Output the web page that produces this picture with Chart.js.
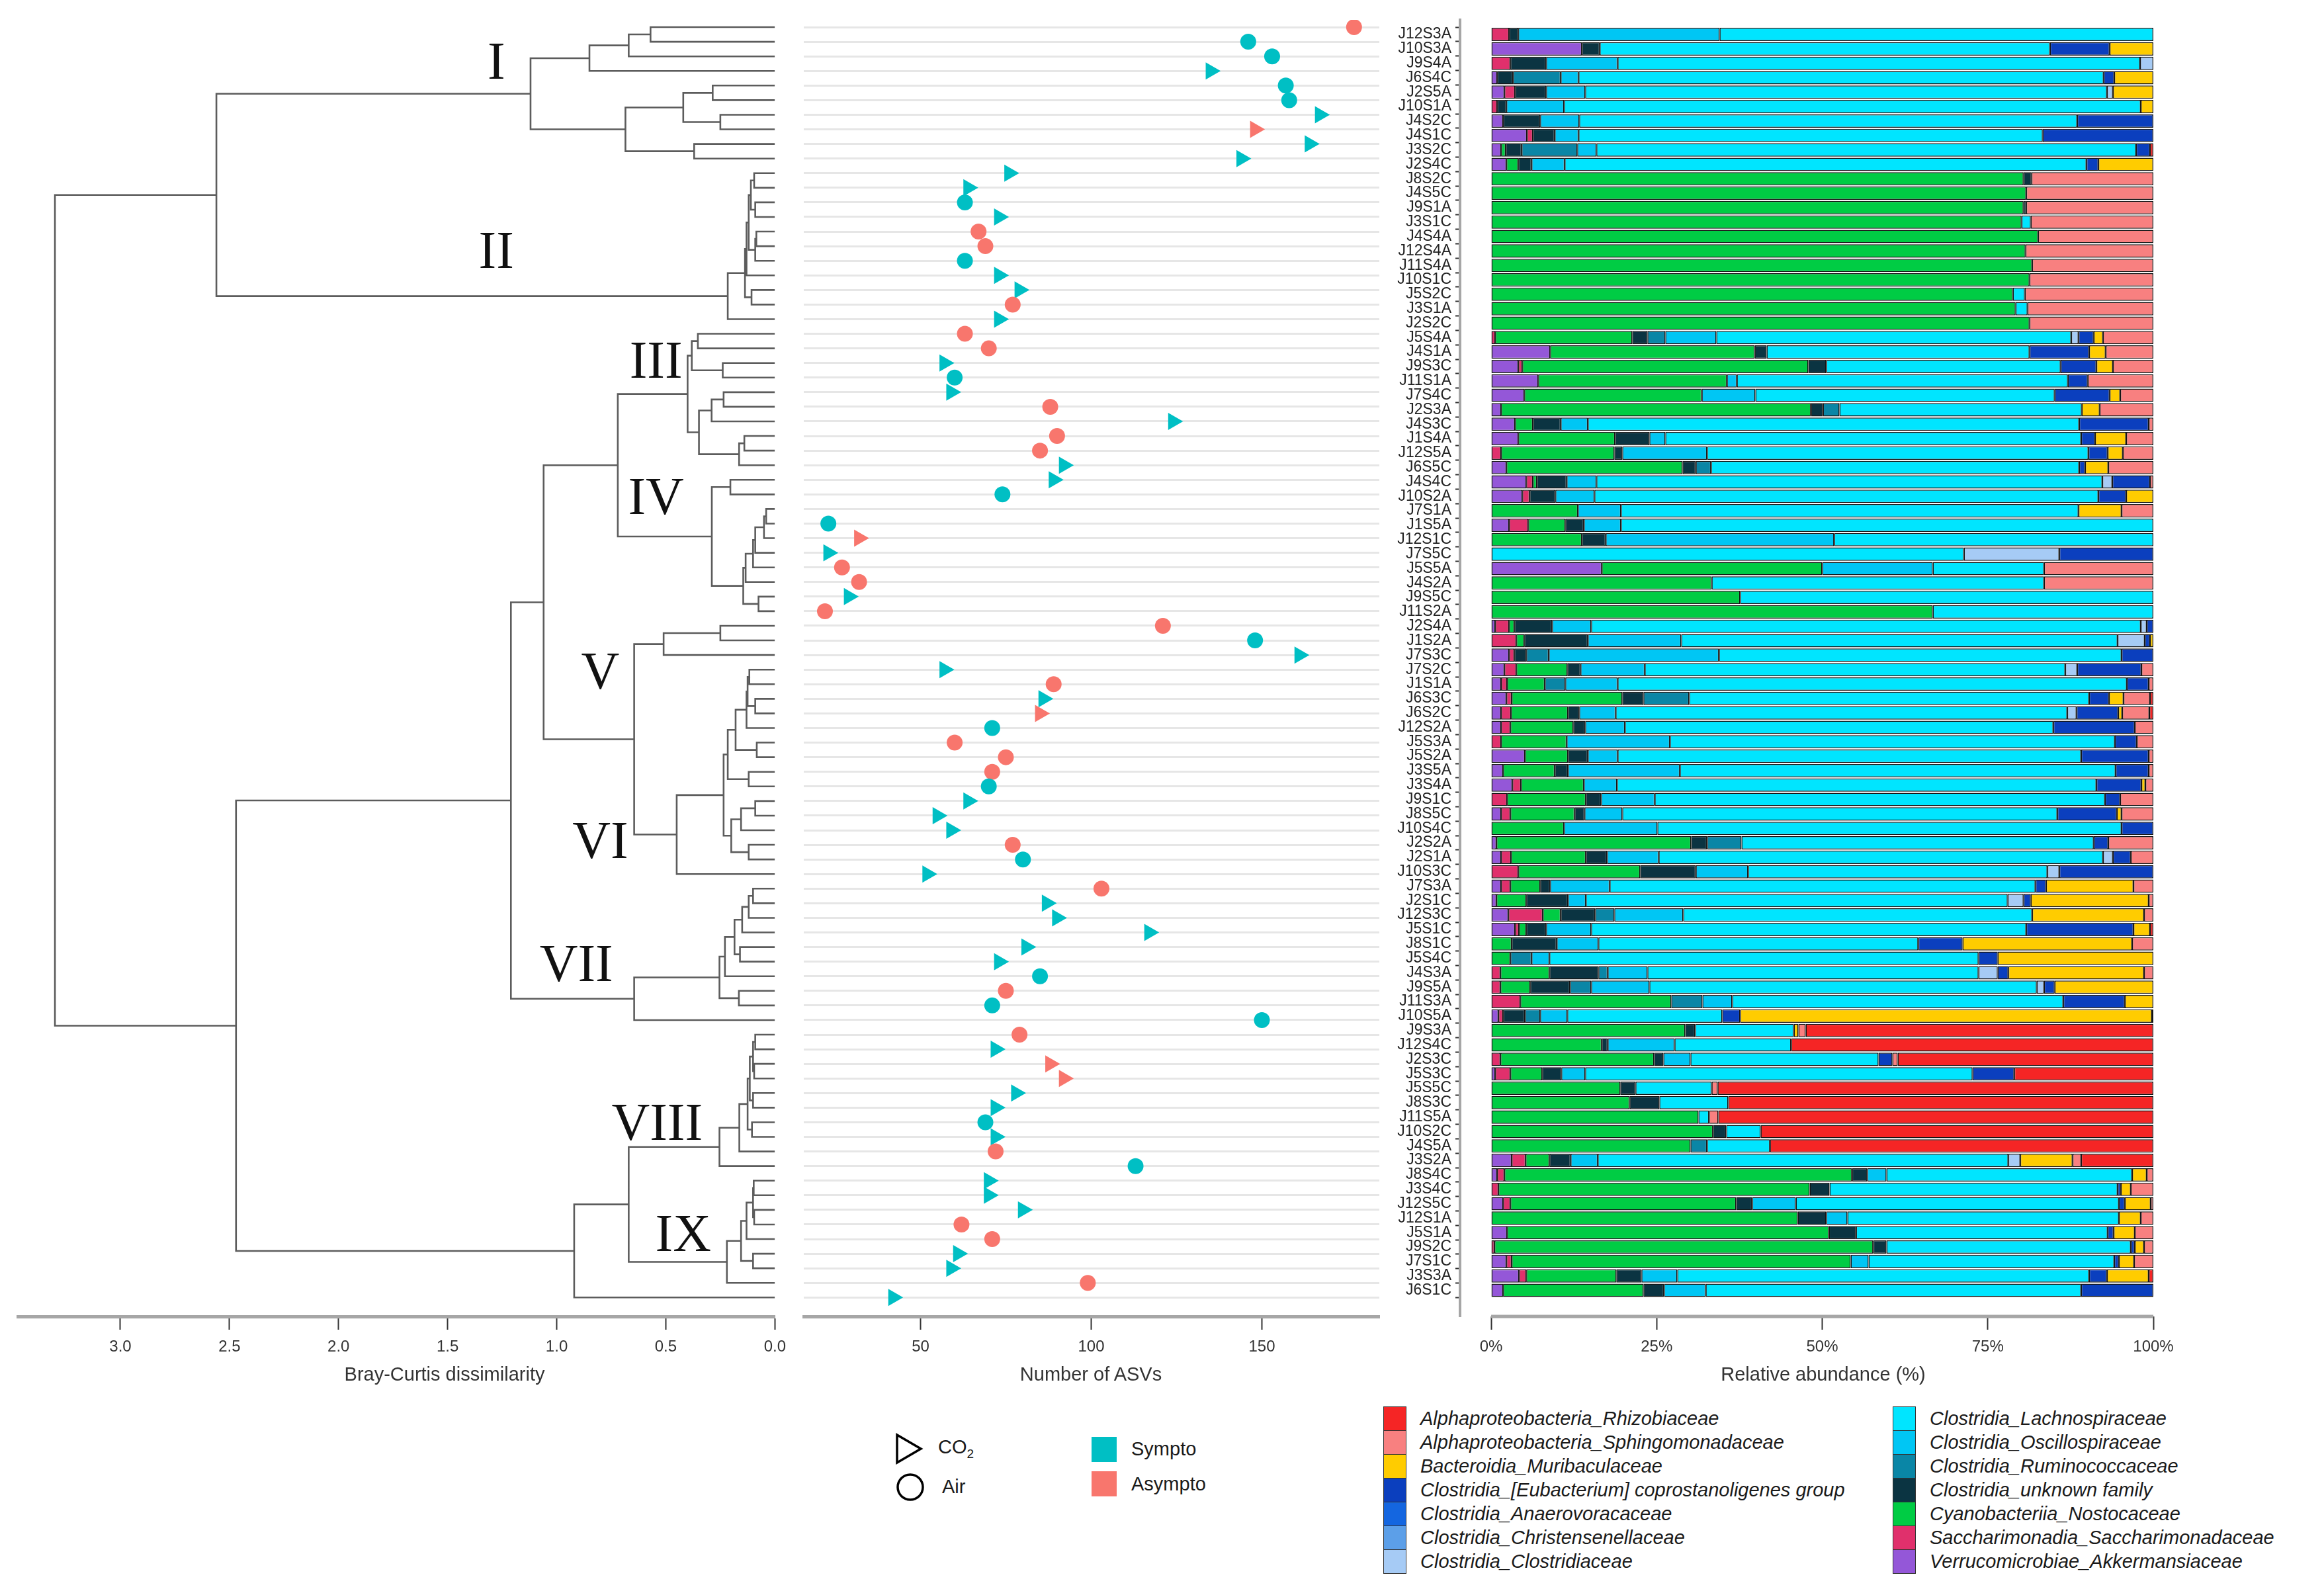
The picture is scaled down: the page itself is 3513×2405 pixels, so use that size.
<!DOCTYPE html>
<html><head><meta charset="utf-8">
<script src="https://cdn.jsdelivr.net/npm/chart.js@4.4.1/dist/chart.umd.min.js"></script>
<style>
html,body{margin:0;padding:0;background:#fff;}
#wrap{position:relative;width:3513px;height:2405px;overflow:hidden;background:#fff;font-family:"Liberation Sans",Arial,sans-serif;}
#wrap canvas{position:absolute;top:0;}
.lg{position:absolute;color:#1a1a1a;white-space:nowrap;line-height:1;transform:translateY(-50%);font-size:29px;}
.ttl{position:absolute;color:#333;white-space:nowrap;line-height:1;transform:translate(-50%,-50%);font-size:29px;top:2077px;}
.it{font-style:italic;}
.key{position:absolute;box-sizing:border-box;border:1.5px solid #333;}
</style></head><body><div id="wrap">
<canvas id="dendro" width="1200" height="2110" style="left:0px"></canvas>
<canvas id="asv" width="900" height="2110" style="left:1200px"></canvas>
<canvas id="bars" width="1413" height="2110" style="left:2100px"></canvas>
<div class="ttl" style="left:672px">Bray-Curtis dissimilarity</div>
<div class="ttl" style="left:1649px">Number of ASVs</div>
<div class="ttl" style="left:2756px">Relative abundance (%)</div>
<svg style="position:absolute;left:1352px;top:2166px" width="44" height="48"><polygon points="4,3 40,24 4,45" fill="none" stroke="#000" stroke-width="3.5"/></svg>
<div class="lg" style="left:1418px;top:2190px">CO<sub style="font-size:19px">2</sub></div>
<svg style="position:absolute;left:1354px;top:2226px" width="44" height="44"><circle cx="22" cy="22" r="19" fill="none" stroke="#000" stroke-width="3.5"/></svg>
<div class="lg" style="left:1424px;top:2247px">Air</div>
<div class="key" style="left:1650px;top:2172px;width:38px;height:38px;background:#00BFC4;border:none"></div>
<div class="lg" style="left:1710px;top:2190px">Sympto</div>
<div class="key" style="left:1650px;top:2224px;width:38px;height:38px;background:#F8766D;border:none"></div>
<div class="lg" style="left:1710px;top:2243px">Asympto</div>
<div id="famLegend"></div>
</div>
<script>
// ---------------- DATA ----------------
const sampleLabels = [
 'J12S3A','J10S3A','J9S4A','J6S4C','J2S5A','J10S1A','J4S2C','J4S1C','J3S2C','J2S4C',
 'J8S2C','J4S5C','J9S1A','J3S1C','J4S4A','J12S4A','J11S4A','J10S1C','J5S2C','J3S1A',
 'J2S2C','J5S4A','J4S1A','J9S3C','J11S1A','J7S4C','J2S3A','J4S3C','J1S4A','J12S5A',
 'J6S5C','J4S4C','J10S2A','J7S1A','J1S5A','J12S1C','J7S5C','J5S5A','J4S2A','J9S5C',
 'J11S2A','J2S4A','J1S2A','J7S3C','J7S2C','J1S1A','J6S3C','J6S2C','J12S2A','J5S3A',
 'J5S2A','J3S5A','J3S4A','J9S1C','J8S5C','J10S4C','J2S2A','J2S1A','J10S3C','J7S3A',
 'J2S1C','J12S3C','J5S1C','J8S1C','J5S4C','J4S3A','J9S5A','J11S3A','J10S5A','J9S3A',
 'J12S4C','J2S3C','J5S3C','J5S5C','J8S3C','J11S5A','J10S2C','J4S5A','J3S2A','J8S4C',
 'J3S4C','J12S5C','J12S1A','J5S1A','J9S2C','J7S1C','J3S3A','J6S1C'];

const asvCount = [
 177,146,153,135,157,158,167,148,164,144,
 76,64,63,73,67,69,63,73,79,77,
 73,63,70,57,60,59,88,124,90,85,
 92,89,74,null,23,32,23,27,32,29,
 22,121,148,161,57,89,86,85,71,60,
 75,71,70,64,55,59,77,80,52,103,
 87,90,117,81,73,85,75,71,150,79,
 72,88,92,78,72,69,72,72,113,70,
 70,80,62,71,61,59,99,42];

const symptomGroup = [
 'A','S','S','S','S','S','S','A','S','S',
 'S','S','S','S','A','A','S','S','S','A',
 'S','A','A','S','S','S','A','S','A','A',
 'S','S','S','A','S','A','S','A','A','S',
 'A','A','S','S','S','A','S','A','S','A',
 'A','A','S','S','S','S','A','S','S','A',
 'S','S','S','S','S','S','A','S','S','A',
 'S','A','A','S','S','S','S','A','S','S',
 'S','S','A','A','S','S','A','S'];

// dendrogram merges: [height, left, right]; numbers = leaf row index
const dendroTree = [3.30,
  [2.56,
    [1.12, [0.85, [0.67, [0.57, 0, 1], 2], 3], [0.685, [0.42, [0.285, 4, 5], [0.25, 6, 7]], [0.37, 8, 9]]],
    [0.216, [0.137, [0.13, [0.12, [0.11, [0.095, 10, 11], [0.09, 12, 13]], [0.09, [0.085, 14, 15], 16]], 17], [0.107, 18, 19]], 20]
  ],
  [2.47,
    [1.21,
      [1.06,
        [0.72,
          [0.40, [0.381, [0.353, 21, 22], [0.239, 23, 24]], [0.348, [0.29, [0.235, 25, 26], 27], [0.164, [0.14, 28, 29], 30]]],
          [0.289, [0.204, 31, 32], [0.145, [0.134, [0.10, [0.09, [0.05, [0.04, 33, 34], 35], 36], 37], 38], [0.075, 39, 40]]]
        ],
        [0.645, [0.51, [0.25, 41, 42], 43],
          [0.45, [0.235,
                   [0.216, [0.18, [0.13, [0.125, [0.117, 44, 45], [0.09, 46, 47]], 48], [0.083, 49, 50]], [0.12, 51, 52]],
                   [0.20, [0.155, [0.09, 53, 54], 55], [0.12, 56, 57]]], 58]
        ]
      ],
      [0.645, [0.254, [0.229, [0.185, [0.15, [0.12, [0.10, 59, 60], 61], 62], [0.16, 63, 64]], 65], [0.165, 66, 67]], 68]
    ],
    [0.92, [0.67,
      [0.254, [0.163, [0.125, [0.115, [0.10, [0.09, 69, 70], [0.095, 71, 72]], [0.10, 73, 74]], [0.105, 75, 76]], 77], 78],
      [0.22, [0.155, [0.13, [0.10, [0.097, 79, 80], [0.095, 81, 82]], 83], [0.10, 84, 85]], 86]], 87]
  ]
];

const dendroTicks = [3.0, 2.5, 2.0, 1.5, 1.0, 0.5, 0.0];
const asvTicks = [50, 100, 150];
const abundanceTicks = [0, 25, 50, 75, 100];

const clusterNames  = ['I','II','III','IV','V','VI','VII','VIII','IX'];
const clusterLabelX = [1.277, 1.277, 0.545, 0.545, 0.80, 0.80, 0.91, 0.54, 0.42];
const clusterLabelY = [2.33, 15.25, 22.8, 32.1, 44.07, 55.7, 64.1, 75.0, 82.6];

// relative abundance (%) per family, one value per sample row
const akkermansiaceae = [0,13.7,0,0.9,2,0,1.8,5.4,1.5,2.3, 0,0,0,0,0,0,0,0,0,0, 0,0,8.9,4.1,7.1,5,1.5,3.6,4.1,0, 2.3,5.3,4.7,0,2.7,0,0,16.7,0,0, 0,0.6,0,2.7,2,1.5,2.3,1.5,1.5,0, 5.1,1.8,3.2,0,1.5,0,0.8,1.5,0,1.5, 0.8,2.6,3.6,0,0,0,0,0,1.1,0, 0,0,0.6,0,0,0,0,0,3.1,0.9, 0,1.8,0,2.4,0,2.3,4.2,1.8];
const saccharimonadaceae = [2.7,0,2.9,0,1.6,0.9,0,0.9,0,0, 0,0,0,0,0,0,0,0,0,0, 0,0.6,0,0.6,0,0,0,0,0,1.5, 0,1,1.1,0,2.9,0,0,0,0,0, 0,2.1,3.8,0.8,1.8,0.9,0.8,1.5,1.4,1.5, 0,0,1.3,2.4,1.4,0,0,1.5,4.1,1.4, 0,5.2,0.6,0,0,1.4,1.4,4.4,0.7,0, 0,1.4,2.3,0,0,0,0,0,2.1,1.1, 1.1,1.1,0,0,0.5,0.8,1.1,0];
const nostocaceae = [0,0,0,0,0,0,0,0,0.7,1.8, 80.4,80.8,80.4,80.1,82.6,80.7,81.7,81.3,78.8,79.2, 81.3,20.7,30.9,43.2,28.5,26.8,46.8,2.7,14.6,17.1, 26.6,0.6,0,13.1,5.6,13.7,0,33.3,33.3,37.6, 66.7,0.8,1.2,0,7.7,5.7,16.7,8.6,9.5,9.9, 6.5,7.8,9.5,11.9,9.7,11,29.4,11.3,18.4,4.5, 4.5,2.7,1.1,3.1,2.9,7.4,4.5,22.8,0,29.3, 16.7,23.2,4.8,19.5,20.9,31.3,33.5,30.1,3.6,52.5, 47,34.1,46.3,48.6,57.2,51.2,13.6,21.2];
const unknownFamily = [1.4,2.7,5.4,2.4,4.7,1.4,5.6,3.3,2.4,2, 1.2,0,0.4,0,0,0,0,0,0,0, 0,2.3,1.8,2.7,0,0,1.8,4.2,5.2,1.2, 2,4.5,3.9,0,2.8,3.6,0,0,0,0, 0,5.7,9.6,1.8,2,0,3.2,1.7,1.8,0, 3,2,0,2.3,1.5,0,2.4,3.2,8.4,1.5, 6.3,5.2,3,6.8,0,7.4,6,0,3.3,1.5, 0.9,1.4,2.9,2.3,4.5,0,2,0,3.2,2.3, 3,2.4,4.3,4.1,2,0,3.8,3.1];
const ruminococcaceae = [0,0,0,7.2,0,0,0,0,8.4,0, 0,0,0,0,0,0,0,0,0,0, 0,2.7,0,0,0,0,2.5,0,0,0, 2.3,0,0,0,0,0,0,0,0,0, 0,0,0,3.4,0,3.1,6.9,0,0,0, 0,0,0,0,0,0,5.2,0,0,0, 0,2.9,0,0,3.2,1.4,3.2,4.7,2.3,0, 0,0,0,0,0,0,0,2.5,0,0, 0,0,0,0,0,0,0,0];
const oscillospiraceae = [30.4,0,10.8,2.7,5.9,8.7,5.9,3.6,2.9,5, 0,0,0,0,0,0,0,0,0,0, 0,7.7,0,0,1.5,8.1,0,4.1,2.4,12.8, 0,4.5,5.9,6.5,5.6,34.5,0,16.7,0,0, 0,5.9,14.1,25.7,9.7,7.9,0,5.5,6,15.6, 4.5,16.9,5,8.1,5.7,14.1,0,7.8,7.9,9, 2.7,10.4,6.8,6.3,2.7,6,8.8,4.5,4.1,0, 10.1,4.1,3.6,0,0,0,0,0,4.1,2.9, 0,6.6,3.2,0,0,2.7,5.4,6.3];
const lachnospiraceae = [65.5,68,78.9,79.3,78.8,87.1,75.2,70.1,81.5,78.8, 0,0,0,1.4,0,0,0,0,1.8,1.8, 0,53.6,39.7,35.4,50,45.2,36.6,74.2,62.8,57.6, 55.6,76.4,76.1,69.1,80.4,48.2,71.4,16.8,50.2,62.4, 33.3,83,65.9,60.8,63.5,76.9,60.4,68.2,64.7,67.2, 70,65.8,72.4,68,65.7,70.1,53.2,67.1,45.2,64.3, 63.7,52.7,65.7,48.3,64.8,50,58.5,50,23.4,14.9, 17.6,28.4,58.5,11.5,10.4,1.6,5.2,9.5,62,37.1, 43.5,48.8,41,38,36.9,37.1,62.2,56.7];
const clostridiaceae = [0,0,2,0,0.9,0,0,0,0,0, 0,0,0,0,0,0,0,0,0,0, 0,1.1,0,0,0,0,0,0,0,0, 0,1.5,0,0,0,0,14.4,0,0,0, 0,0.9,4.1,0,1.8,0,0,1.4,0,0, 0,0,0,0,0,0,0,1.5,1.8,0, 2.4,0,0,0,0,2.9,1.1,0,0,0, 0,0,0,0,0,0,0,0,1.8,0, 0,0,0,0,0,0,0,0];
const christensenellaceae = [0,0,0,0,0,0,0,0,0,0, 0,0,0,0,0,0,0,0,0,0, 0,0,0,0,0,0,0,0,0,0, 0,0,0,0,0,0,0,0,0,0, 0,0,0,0,0,0,0,0,0,0, 0,0,0,0,0,0,0,0,0,0, 0,0,0,0,0,0,0,0,0,0, 0,0,0,0,0,0,0,0,0,0, 0,0,0,0,0,0,0,0];
const anaerovoracaceae = [0,0,0,0,0,0,0,0,0,0, 0,0,0,0,0,0,0,0,0,0, 0,0,0,0,0,0,0,0,0,0, 0,0,0,0,0,0,0,0,0,0, 0,0,0,0,0,0,0,0,0,0, 0,0,0,0,0,0,0,0,0,0, 0,0,0,0,0,0,0,0,0,0, 0,0,0,0,0,0,0,0,0,0, 0,0,0,0,0,0,0,0];
const eubacteriumGroup = [0,9,0,1.6,0,0,11.5,16.7,2.1,1.8, 0,0,0,0,0,0,0,0,0,0, 0,2.3,9,5.4,3,8.3,0,10.5,2.1,2.9, 0.9,5.7,4.2,0,0,0,14.2,0,0,0, 0,1,0.8,4.8,9.7,3.3,3,6.3,12.3,3.3, 10.2,5,6.8,2.3,9,4.8,2.2,2.7,14.2,1.6, 1.1,0,16.2,6.7,2.9,1.6,1.6,9.3,2.7,0, 0,2.1,6.3,0,0,0,0,0,0,0, 0.5,0.9,0,0.9,0.6,0.7,2.7,10.9];
const muribaculaceae = [0,6.6,0,5.9,6.1,1.9,0,0,0,8.3, 0,0,0,0,0,0,0,0,0,0, 0,1.4,2.5,2.5,0,1.6,2.7,0,4.7,2.3, 3.5,0,4.1,6.5,0,0,0,0,0,0, 0,0,0.5,0,0,0,2.2,0.6,0,0, 0,0,0.6,0,0.7,0,0,0,0,13.2, 17.8,16.9,2.5,25.6,23.5,20.5,14.9,4.3,62.2,0.7, 0,0,0,0,0,0,0,0,7.9,2.2, 1.5,3.9,3.3,3.2,1.4,2.3,6.3,0];
const sphingomonadaceae = [0,0,0,0,0,0,0,0,0,0, 18.4,19.2,19.2,18.5,17.4,19.3,18.3,18.7,19.4,19, 18.7,7.6,7.2,6.1,9.9,5,8.1,0.7,4.1,4.6, 6.8,0.5,0,4.8,0,0,0,16.5,16.5,0, 0,0,0,0,1.8,0.7,4,4.1,2.8,2.5, 0.7,0.7,1.2,5,4.8,0,6.8,3.4,0,3, 0.7,1.4,0,3.2,0,1.4,0,0,0.2,1.1, 0,0.8,0,0.9,0,1.4,0,0,1.3,1, 3.4,0.4,1.9,2.8,1.4,2.9,0,0];
const rhizobiaceae = [0,0,0,0,0,0,0,0,0.5,0, 0,0,0,0,0,0,0,0,0,0, 0,0,0,0,0,0,0,0,0,0, 0,0,0,0,0,0,0,0,0,0, 0,0,0,0,0,0,0.5,0.6,0,0, 0,0,0,0,0,0,0,0,0,0, 0,0,0.5,0,0,0,0,0,0,52.5, 54.7,38.6,21,65.8,64.2,65.7,59.3,57.9,10.9,0, 0,0,0,0,0,0,0.7,0];

// stacking order (left -> right) and names/colours
const familyNames = [
 'Verrucomicrobiae_Akkermansiaceae','Saccharimonadia_Saccharimonadaceae','Cyanobacteriia_Nostocaceae',
 'Clostridia_unknown family','Clostridia_Ruminococcaceae','Clostridia_Oscillospiraceae','Clostridia_Lachnospiraceae',
 'Clostridia_Clostridiaceae','Clostridia_Christensenellaceae','Clostridia_Anaerovoracaceae',
 'Clostridia_[Eubacterium] coprostanoligenes group','Bacteroidia_Muribaculaceae',
 'Alphaproteobacteria_Sphingomonadaceae','Alphaproteobacteria_Rhizobiaceae'];
const familyValues = [akkermansiaceae, saccharimonadaceae, nostocaceae, unknownFamily, ruminococcaceae,
 oscillospiraceae, lachnospiraceae, clostridiaceae, christensenellaceae, anaerovoracaceae,
 eubacteriumGroup, muribaculaceae, sphingomonadaceae, rhizobiaceae];
const familyColors = ['#9457D8','#E0306C','#00CC44','#0B3442','#0A86A6','#00C6F4','#00E5FF',
 '#A6CBF5','#5C9FE8','#1466E0','#0B3FBE','#FFCC00','#F88080','#F52525'];

// ---------------- RENDER ----------------
Chart.defaults.font.family = '"Liberation Sans", Arial, sans-serif';
Chart.defaults.color = '#333';
const yMin = -0.5, yMax = 88.3;
const rowTicks = sampleLabels.map((_, i) => i);

function axisX(opts) {
  return Object.assign({
    type: 'linear',
    ticks: { font: { size: 24 }, color: '#333', padding: 12, maxRotation: 0, autoSkip: false },
    grid: { display: true, drawOnChartArea: false, drawTicks: true, tickLength: 20, tickColor: '#333', tickWidth: 2 },
    border: { display: true, color: '#a6a6a6', width: 5 },
    afterFit: s => { s.height = 120; }
  }, opts);
}

// dendrogram
const dendroPts = [];
function buildDendro(node) {
  if (typeof node === 'number') return { h: 0, y: node };
  const [h, l, r] = node;
  const a = buildDendro(l), b = buildDendro(r);
  dendroPts.push({x: a.h, y: a.y}, {x: h, y: a.y}, {x: h, y: b.y}, {x: b.h, y: b.y}, {x: h, y: null});
  return { h, y: (a.y + b.y) / 2 };
}
buildDendro(dendroTree);

const clusterLabelPlugin = {
  id: 'clusterLabels',
  afterDatasetsDraw(chart) {
    const { ctx, scales: { x, y } } = chart;
    ctx.save();
    ctx.font = '80px "Liberation Serif", "DejaVu Serif", serif';
    ctx.fillStyle = '#111';
    ctx.textAlign = 'center';
    ctx.textBaseline = 'alphabetic';
    clusterNames.forEach((t, i) => {
      ctx.fillText(t, x.getPixelForValue(clusterLabelX[i]), y.getPixelForValue(clusterLabelY[i]) + 27);
    });
    ctx.restore();
  }
};

new Chart(document.getElementById('dendro'), {
  type: 'line',
  data: { datasets: [{ data: dendroPts, borderColor: '#5c5c5c', borderWidth: 2.6, pointRadius: 0, spanGaps: false, tension: 0 }] },
  options: {
    responsive: false, animation: false, devicePixelRatio: 1, events: [],
    layout: { padding: { left: 27, right: 8, top: 30, bottom: 0 } },
    plugins: { legend: { display: false }, tooltip: { enabled: false } },
    scales: {
      x: axisX({ min: 0, max: 3.47, reverse: true,
        afterBuildTicks: s => { s.ticks = dendroTicks.map(v => ({ value: v })); },
        ticks: { font: { size: 24 }, color: '#333', padding: 12, maxRotation: 0, autoSkip: false, callback: v => Number(v).toFixed(1) } }),
      y: { type: 'linear', reverse: true, min: yMin, max: yMax, display: false }
    }
  },
  plugins: [clusterLabelPlugin]
});

// ASV scatter
const asvPts = [];
asvCount.forEach((v, i) => { if (v !== null) asvPts.push({ x: v, y: i }); });
const isCO2 = i => sampleLabels[i].endsWith('C');
new Chart(document.getElementById('asv'), {
  type: 'scatter',
  data: { datasets: [{
    data: asvPts,
    pointStyle: c => (c.raw && isCO2(c.raw.y)) ? 'triangle' : 'circle',
    pointRotation: c => (c.raw && isCO2(c.raw.y)) ? 90 : 0,
    pointRadius: c => (c.raw && isCO2(c.raw.y)) ? 15 : 12,
    pointBackgroundColor: c => (c.raw && symptomGroup[c.raw.y] === 'S') ? '#00BFC4' : '#F8766D',
    pointBorderWidth: 0
  }] },
  options: {
    responsive: false, animation: false, devicePixelRatio: 1, events: [],
    layout: { padding: { left: 10, right: 13, top: 30, bottom: 0 } },
    plugins: { legend: { display: false }, tooltip: { enabled: false } },
    scales: {
      x: axisX({ min: 15.8, max: 184.4,
        afterBuildTicks: s => { s.ticks = asvTicks.map(v => ({ value: v })); } }),
      y: { type: 'linear', reverse: true, min: yMin, max: yMax,
        afterBuildTicks: s => { s.ticks = rowTicks.map(v => ({ value: v })); },
        ticks: { display: false },
        grid: { display: true, drawOnChartArea: true, drawTicks: false, color: '#e6e6e6', lineWidth: 3 },
        border: { display: false },
        afterFit: s => { s.width = 0; } }
    }
  }
});

// stacked bars
const barAxisLine = {
  id: 'barAxisLine',
  afterDraw(chart) {
    const { ctx, chartArea, scales: { x } } = chart;
    ctx.save();
    ctx.strokeStyle = '#a6a6a6'; ctx.lineWidth = 5;
    ctx.beginPath();
    ctx.moveTo(x.getPixelForValue(0), chartArea.bottom);
    ctx.lineTo(x.getPixelForValue(100), chartArea.bottom);
    ctx.stroke();
    ctx.restore();
  }
};
new Chart(document.getElementById('bars'), {
  type: 'bar',
  data: { datasets: familyValues.map((vals, k) => ({
    label: familyNames[k],
    data: vals.map((v, i) => ({ x: v === 0 ? null : v, y: i })),
    backgroundColor: familyColors[k],
    borderColor: '#141414', borderWidth: 1.5, borderSkipped: false,
    barPercentage: 0.92, categoryPercentage: 1.0
  })) },
  options: {
    indexAxis: 'y',
    responsive: false, animation: false, devicePixelRatio: 1, events: [],
    layout: { padding: { left: 0, right: 258, top: 30, bottom: 0 } },
    plugins: { legend: { display: false }, tooltip: { enabled: false } },
    scales: {
      x: axisX({ stacked: true, min: -4.7, max: 100,
        afterBuildTicks: s => { s.ticks = abundanceTicks.map(v => ({ value: v })); },
        ticks: { font: { size: 24 }, color: '#333', padding: 12, maxRotation: 0, autoSkip: false, callback: v => v + '%' },
        border: { display: false } }),
      y: { type: 'linear', stacked: true, reverse: true, min: yMin, max: yMax,
        afterBuildTicks: s => { s.ticks = rowTicks.map(v => ({ value: v })); },
        ticks: { font: { size: 23 }, color: '#222', padding: 6, autoSkip: false, callback: v => sampleLabels[v] },
        grid: { display: true, drawOnChartArea: false, drawTicks: true, tickLength: 7, tickColor: '#333', tickWidth: 2 },
        border: { display: true, color: '#a6a6a6', width: 4 },
        afterFit: s => { s.width = 107; } }
    }
  },
  plugins: [barAxisLine]
});

// family legend (two columns, legend order)
const legendCol1 = [13, 12, 11, 10, 9, 8, 7];
const legendCol2 = [6, 5, 4, 3, 2, 1, 0];
const fl = document.getElementById('famLegend');
[[legendCol1, 2091, 2147], [legendCol2, 2861, 2917]].forEach(([col, kx, tx]) => {
  col.forEach((k, r) => {
    const key = document.createElement('div');
    key.className = 'key';
    key.style.cssText = `left:${kx}px;top:${2126 + 36 * r}px;width:35px;height:37px;background:${familyColors[k]}`;
    fl.appendChild(key);
    const t = document.createElement('div');
    t.className = 'lg it';
    t.style.cssText = `left:${tx}px;top:${2144 + 36 * r}px`;
    t.textContent = familyNames[k];
    fl.appendChild(t);
  });
});
</script>
</body></html>
